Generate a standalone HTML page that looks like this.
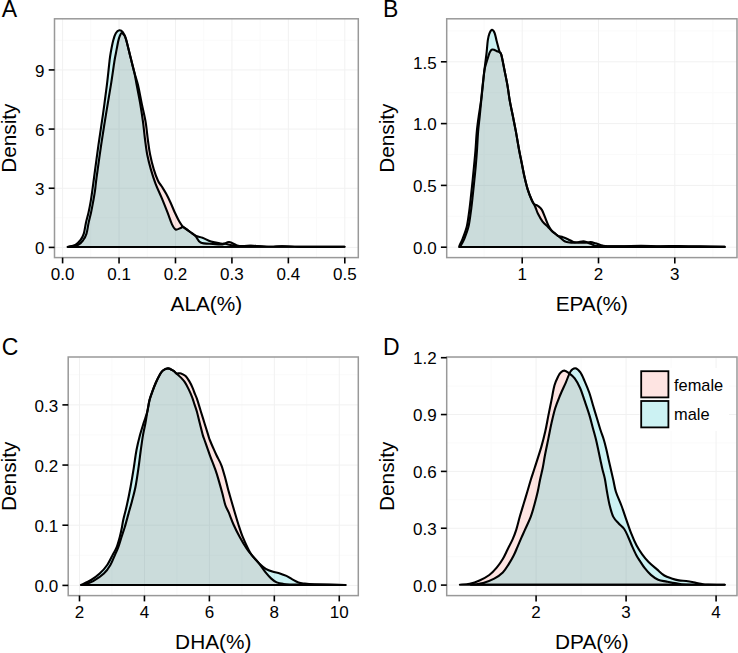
<!DOCTYPE html>
<html><head><meta charset="utf-8"><style>
html,body{margin:0;padding:0;background:#fff;width:738px;height:653px;overflow:hidden}
svg{display:block}
text{font-family:"Liberation Sans", sans-serif;fill:#000}
.tk{font-size:17px}
.lg{font-size:16.4px}
.ti{font-size:20.8px}
.lt{font-size:23px}
</style></head><body>
<svg width="738" height="653" viewBox="0 0 738 653">
<rect width="738" height="653" fill="#fff"/>
<line x1="90.82" y1="18.8" x2="90.82" y2="257.6" stroke="#FAFAFA" stroke-width="1"/>
<line x1="147.26" y1="18.8" x2="147.26" y2="257.6" stroke="#FAFAFA" stroke-width="1"/>
<line x1="203.7" y1="18.8" x2="203.7" y2="257.6" stroke="#FAFAFA" stroke-width="1"/>
<line x1="260.14" y1="18.8" x2="260.14" y2="257.6" stroke="#FAFAFA" stroke-width="1"/>
<line x1="316.58" y1="18.8" x2="316.58" y2="257.6" stroke="#FAFAFA" stroke-width="1"/>
<line x1="54.5" y1="217.82" x2="358.3" y2="217.82" stroke="#FAFAFA" stroke-width="1"/>
<line x1="54.5" y1="158.66" x2="358.3" y2="158.66" stroke="#FAFAFA" stroke-width="1"/>
<line x1="54.5" y1="99.5" x2="358.3" y2="99.5" stroke="#FAFAFA" stroke-width="1"/>
<line x1="54.5" y1="40.34" x2="358.3" y2="40.34" stroke="#FAFAFA" stroke-width="1"/>
<line x1="62.6" y1="18.8" x2="62.6" y2="257.6" stroke="#F1F1F1" stroke-width="1"/>
<line x1="119.04" y1="18.8" x2="119.04" y2="257.6" stroke="#F1F1F1" stroke-width="1"/>
<line x1="175.48" y1="18.8" x2="175.48" y2="257.6" stroke="#F1F1F1" stroke-width="1"/>
<line x1="231.92" y1="18.8" x2="231.92" y2="257.6" stroke="#F1F1F1" stroke-width="1"/>
<line x1="288.36" y1="18.8" x2="288.36" y2="257.6" stroke="#F1F1F1" stroke-width="1"/>
<line x1="344.8" y1="18.8" x2="344.8" y2="257.6" stroke="#F1F1F1" stroke-width="1"/>
<line x1="54.5" y1="247.4" x2="358.3" y2="247.4" stroke="#F1F1F1" stroke-width="1"/>
<line x1="54.5" y1="188.24" x2="358.3" y2="188.24" stroke="#F1F1F1" stroke-width="1"/>
<line x1="54.5" y1="129.08" x2="358.3" y2="129.08" stroke="#F1F1F1" stroke-width="1"/>
<line x1="54.5" y1="69.92" x2="358.3" y2="69.92" stroke="#F1F1F1" stroke-width="1"/>
<path d="M68.70,247.00 C70.30,246.63 75.87,245.97 78.30,244.80 C80.73,243.63 81.93,241.87 83.30,240.00 C84.67,238.13 85.62,236.45 86.50,233.60 C87.38,230.75 87.83,226.47 88.60,222.90 C89.37,219.33 90.33,215.78 91.10,212.20 C91.87,208.62 92.55,204.98 93.20,201.40 C93.85,197.82 94.45,194.60 95.00,190.70 C95.55,186.80 95.47,185.68 96.50,178.00 C97.53,170.32 99.63,155.13 101.20,144.60 C102.77,134.07 104.28,124.75 105.90,114.80 C107.52,104.85 109.48,93.82 110.90,84.90 C112.32,75.98 113.55,66.67 114.40,61.30 C115.25,55.93 115.33,56.18 116.00,52.70 C116.67,49.22 117.73,43.27 118.40,40.40 C119.07,37.53 119.48,36.73 120.00,35.50 C120.52,34.27 120.83,33.08 121.50,33.00 C122.17,32.92 123.25,33.97 124.00,35.00 C124.75,36.03 124.90,35.43 126.00,39.20 C127.10,42.97 129.22,52.08 130.60,57.60 C131.98,63.12 133.07,67.72 134.30,72.30 C135.53,76.88 136.77,79.90 138.00,85.10 C139.23,90.30 140.43,97.37 141.70,103.50 C142.97,109.63 144.57,115.82 145.60,121.90 C146.63,127.98 147.15,134.57 147.90,140.00 C148.65,145.43 149.13,149.65 150.10,154.50 C151.07,159.35 152.38,164.73 153.70,169.10 C155.02,173.47 156.65,177.80 158.00,180.70 C159.35,183.60 160.43,184.32 161.80,186.50 C163.17,188.68 164.75,191.13 166.20,193.80 C167.65,196.47 169.05,199.35 170.50,202.50 C171.95,205.65 173.43,209.53 174.90,212.70 C176.37,215.87 177.85,219.07 179.30,221.50 C180.75,223.93 181.00,224.98 183.60,227.30 C186.20,229.62 192.07,232.87 194.90,235.40 C197.73,237.93 197.58,241.08 200.60,242.50 C203.62,243.92 209.37,243.58 213.00,243.90 C216.63,244.22 219.72,244.72 222.40,244.40 C225.08,244.08 226.72,241.83 229.10,242.00 C231.48,242.17 234.65,244.70 236.70,245.40 C238.75,246.10 239.02,246.13 241.40,246.20 C243.78,246.27 246.23,245.70 251.00,245.80 C255.77,245.90 264.83,246.72 270.00,246.80 C275.17,246.88 277.00,246.28 282.00,246.30 C287.00,246.32 291.17,246.80 300.00,246.90 C308.83,247.00 327.58,246.93 335.00,246.90 C342.42,246.87 342.92,246.73 344.50,246.70 Z" fill="rgba(248,118,109,0.2)"/>
<path d="M67.60,247.00 C68.90,246.63 73.23,245.97 75.40,244.80 C77.57,243.63 79.20,241.87 80.60,240.00 C82.00,238.13 82.92,236.45 83.80,233.60 C84.68,230.75 85.10,226.47 85.90,222.90 C86.70,219.33 87.80,215.78 88.60,212.20 C89.40,208.62 90.08,204.98 90.70,201.40 C91.32,197.82 91.75,194.60 92.30,190.70 C92.85,186.80 92.97,185.68 94.00,178.00 C95.03,170.32 97.02,155.13 98.50,144.60 C99.98,134.07 101.50,124.75 102.90,114.80 C104.30,104.85 105.80,93.82 106.90,84.90 C108.00,75.98 108.87,66.67 109.50,61.30 C110.13,55.93 110.08,56.18 110.70,52.70 C111.32,49.22 112.35,43.65 113.20,40.40 C114.05,37.15 114.78,34.88 115.80,33.20 C116.82,31.52 118.13,30.47 119.30,30.30 C120.47,30.13 121.68,30.72 122.80,32.20 C123.92,33.68 124.70,34.97 126.00,39.20 C127.30,43.43 129.22,52.08 130.60,57.60 C131.98,63.12 133.28,67.72 134.30,72.30 C135.32,76.88 135.72,79.90 136.70,85.10 C137.68,90.30 139.15,97.37 140.20,103.50 C141.25,109.63 142.18,115.82 143.00,121.90 C143.82,127.98 144.40,134.57 145.10,140.00 C145.80,145.43 146.25,149.65 147.20,154.50 C148.15,159.35 149.42,164.25 150.80,169.10 C152.18,173.95 153.67,178.75 155.50,183.60 C157.33,188.45 159.78,193.35 161.80,198.20 C163.82,203.05 165.90,208.33 167.60,212.70 C169.30,217.07 170.67,221.60 172.00,224.40 C173.33,227.20 174.15,228.90 175.60,229.50 C177.05,230.10 179.37,228.37 180.70,228.00 C182.03,227.63 181.23,226.07 183.60,227.30 C185.97,228.53 191.75,233.65 194.90,235.40 C198.05,237.15 199.82,236.77 202.50,237.80 C205.18,238.83 208.00,240.65 211.00,241.60 C214.00,242.55 218.12,243.13 220.50,243.50 C222.88,243.87 223.38,243.50 225.30,243.80 C227.22,244.10 229.55,244.92 232.00,245.30 C234.45,245.68 236.83,246.03 240.00,246.10 C243.17,246.17 246.00,245.58 251.00,245.70 C256.00,245.82 264.83,246.70 270.00,246.80 C275.17,246.90 277.00,246.28 282.00,246.30 C287.00,246.32 291.17,246.80 300.00,246.90 C308.83,247.00 327.58,246.93 335.00,246.90 C342.42,246.87 342.92,246.73 344.50,246.70 Z" fill="rgba(0,191,196,0.2)"/>
<path d="M68.70,247.00 C70.30,246.63 75.87,245.97 78.30,244.80 C80.73,243.63 81.93,241.87 83.30,240.00 C84.67,238.13 85.62,236.45 86.50,233.60 C87.38,230.75 87.83,226.47 88.60,222.90 C89.37,219.33 90.33,215.78 91.10,212.20 C91.87,208.62 92.55,204.98 93.20,201.40 C93.85,197.82 94.45,194.60 95.00,190.70 C95.55,186.80 95.47,185.68 96.50,178.00 C97.53,170.32 99.63,155.13 101.20,144.60 C102.77,134.07 104.28,124.75 105.90,114.80 C107.52,104.85 109.48,93.82 110.90,84.90 C112.32,75.98 113.55,66.67 114.40,61.30 C115.25,55.93 115.33,56.18 116.00,52.70 C116.67,49.22 117.73,43.27 118.40,40.40 C119.07,37.53 119.48,36.73 120.00,35.50 C120.52,34.27 120.83,33.08 121.50,33.00 C122.17,32.92 123.25,33.97 124.00,35.00 C124.75,36.03 124.90,35.43 126.00,39.20 C127.10,42.97 129.22,52.08 130.60,57.60 C131.98,63.12 133.07,67.72 134.30,72.30 C135.53,76.88 136.77,79.90 138.00,85.10 C139.23,90.30 140.43,97.37 141.70,103.50 C142.97,109.63 144.57,115.82 145.60,121.90 C146.63,127.98 147.15,134.57 147.90,140.00 C148.65,145.43 149.13,149.65 150.10,154.50 C151.07,159.35 152.38,164.73 153.70,169.10 C155.02,173.47 156.65,177.80 158.00,180.70 C159.35,183.60 160.43,184.32 161.80,186.50 C163.17,188.68 164.75,191.13 166.20,193.80 C167.65,196.47 169.05,199.35 170.50,202.50 C171.95,205.65 173.43,209.53 174.90,212.70 C176.37,215.87 177.85,219.07 179.30,221.50 C180.75,223.93 181.00,224.98 183.60,227.30 C186.20,229.62 192.07,232.87 194.90,235.40 C197.73,237.93 197.58,241.08 200.60,242.50 C203.62,243.92 209.37,243.58 213.00,243.90 C216.63,244.22 219.72,244.72 222.40,244.40 C225.08,244.08 226.72,241.83 229.10,242.00 C231.48,242.17 234.65,244.70 236.70,245.40 C238.75,246.10 239.02,246.13 241.40,246.20 C243.78,246.27 246.23,245.70 251.00,245.80 C255.77,245.90 264.83,246.72 270.00,246.80 C275.17,246.88 277.00,246.28 282.00,246.30 C287.00,246.32 291.17,246.80 300.00,246.90 C308.83,247.00 327.58,246.93 335.00,246.90 C342.42,246.87 342.92,246.73 344.50,246.70 Z" fill="none" stroke="#000" stroke-width="2.1" stroke-linejoin="round"/>
<path d="M67.60,247.00 C68.90,246.63 73.23,245.97 75.40,244.80 C77.57,243.63 79.20,241.87 80.60,240.00 C82.00,238.13 82.92,236.45 83.80,233.60 C84.68,230.75 85.10,226.47 85.90,222.90 C86.70,219.33 87.80,215.78 88.60,212.20 C89.40,208.62 90.08,204.98 90.70,201.40 C91.32,197.82 91.75,194.60 92.30,190.70 C92.85,186.80 92.97,185.68 94.00,178.00 C95.03,170.32 97.02,155.13 98.50,144.60 C99.98,134.07 101.50,124.75 102.90,114.80 C104.30,104.85 105.80,93.82 106.90,84.90 C108.00,75.98 108.87,66.67 109.50,61.30 C110.13,55.93 110.08,56.18 110.70,52.70 C111.32,49.22 112.35,43.65 113.20,40.40 C114.05,37.15 114.78,34.88 115.80,33.20 C116.82,31.52 118.13,30.47 119.30,30.30 C120.47,30.13 121.68,30.72 122.80,32.20 C123.92,33.68 124.70,34.97 126.00,39.20 C127.30,43.43 129.22,52.08 130.60,57.60 C131.98,63.12 133.28,67.72 134.30,72.30 C135.32,76.88 135.72,79.90 136.70,85.10 C137.68,90.30 139.15,97.37 140.20,103.50 C141.25,109.63 142.18,115.82 143.00,121.90 C143.82,127.98 144.40,134.57 145.10,140.00 C145.80,145.43 146.25,149.65 147.20,154.50 C148.15,159.35 149.42,164.25 150.80,169.10 C152.18,173.95 153.67,178.75 155.50,183.60 C157.33,188.45 159.78,193.35 161.80,198.20 C163.82,203.05 165.90,208.33 167.60,212.70 C169.30,217.07 170.67,221.60 172.00,224.40 C173.33,227.20 174.15,228.90 175.60,229.50 C177.05,230.10 179.37,228.37 180.70,228.00 C182.03,227.63 181.23,226.07 183.60,227.30 C185.97,228.53 191.75,233.65 194.90,235.40 C198.05,237.15 199.82,236.77 202.50,237.80 C205.18,238.83 208.00,240.65 211.00,241.60 C214.00,242.55 218.12,243.13 220.50,243.50 C222.88,243.87 223.38,243.50 225.30,243.80 C227.22,244.10 229.55,244.92 232.00,245.30 C234.45,245.68 236.83,246.03 240.00,246.10 C243.17,246.17 246.00,245.58 251.00,245.70 C256.00,245.82 264.83,246.70 270.00,246.80 C275.17,246.90 277.00,246.28 282.00,246.30 C287.00,246.32 291.17,246.80 300.00,246.90 C308.83,247.00 327.58,246.93 335.00,246.90 C342.42,246.87 342.92,246.73 344.50,246.70 Z" fill="none" stroke="#000" stroke-width="2.1" stroke-linejoin="round"/>
<rect x="54.5" y="18.8" width="303.8" height="238.8" fill="none" stroke="#999" stroke-width="1.5"/>
<line x1="62.6" y1="257.6" x2="62.6" y2="263.4" stroke="#000" stroke-width="1.6"/>
<text x="62.6" y="280.1" text-anchor="middle" class="tk">0.0</text>
<line x1="119.04" y1="257.6" x2="119.04" y2="263.4" stroke="#000" stroke-width="1.6"/>
<text x="119.04" y="280.1" text-anchor="middle" class="tk">0.1</text>
<line x1="175.48" y1="257.6" x2="175.48" y2="263.4" stroke="#000" stroke-width="1.6"/>
<text x="175.48" y="280.1" text-anchor="middle" class="tk">0.2</text>
<line x1="231.92" y1="257.6" x2="231.92" y2="263.4" stroke="#000" stroke-width="1.6"/>
<text x="231.92" y="280.1" text-anchor="middle" class="tk">0.3</text>
<line x1="288.36" y1="257.6" x2="288.36" y2="263.4" stroke="#000" stroke-width="1.6"/>
<text x="288.36" y="280.1" text-anchor="middle" class="tk">0.4</text>
<line x1="344.8" y1="257.6" x2="344.8" y2="263.4" stroke="#000" stroke-width="1.6"/>
<text x="344.8" y="280.1" text-anchor="middle" class="tk">0.5</text>
<line x1="48.7" y1="247.4" x2="54.5" y2="247.4" stroke="#000" stroke-width="1.6"/>
<text x="44.5" y="254.1" text-anchor="end" class="tk">0</text>
<line x1="48.7" y1="188.24" x2="54.5" y2="188.24" stroke="#000" stroke-width="1.6"/>
<text x="44.5" y="194.94" text-anchor="end" class="tk">3</text>
<line x1="48.7" y1="129.08" x2="54.5" y2="129.08" stroke="#000" stroke-width="1.6"/>
<text x="44.5" y="135.78" text-anchor="end" class="tk">6</text>
<line x1="48.7" y1="69.92" x2="54.5" y2="69.92" stroke="#000" stroke-width="1.6"/>
<text x="44.5" y="76.62" text-anchor="end" class="tk">9</text>
<text x="206.4" y="310.8" text-anchor="middle" class="ti">ALA(%)</text>
<text transform="translate(15.8,138.2) rotate(-90)" text-anchor="middle" class="ti">Density</text>
<text x="1.8" y="16.9" class="lt">A</text>
<line x1="484.05" y1="18.8" x2="484.05" y2="257.6" stroke="#FAFAFA" stroke-width="1"/>
<line x1="560.35" y1="18.8" x2="560.35" y2="257.6" stroke="#FAFAFA" stroke-width="1"/>
<line x1="636.65" y1="18.8" x2="636.65" y2="257.6" stroke="#FAFAFA" stroke-width="1"/>
<line x1="712.95" y1="18.8" x2="712.95" y2="257.6" stroke="#FAFAFA" stroke-width="1"/>
<line x1="446.7" y1="216.3" x2="737" y2="216.3" stroke="#FAFAFA" stroke-width="1"/>
<line x1="446.7" y1="154.5" x2="737" y2="154.5" stroke="#FAFAFA" stroke-width="1"/>
<line x1="446.7" y1="92.7" x2="737" y2="92.7" stroke="#FAFAFA" stroke-width="1"/>
<line x1="446.7" y1="30.9" x2="737" y2="30.9" stroke="#FAFAFA" stroke-width="1"/>
<line x1="522.2" y1="18.8" x2="522.2" y2="257.6" stroke="#F1F1F1" stroke-width="1"/>
<line x1="598.5" y1="18.8" x2="598.5" y2="257.6" stroke="#F1F1F1" stroke-width="1"/>
<line x1="674.8" y1="18.8" x2="674.8" y2="257.6" stroke="#F1F1F1" stroke-width="1"/>
<line x1="446.7" y1="247.2" x2="737" y2="247.2" stroke="#F1F1F1" stroke-width="1"/>
<line x1="446.7" y1="185.4" x2="737" y2="185.4" stroke="#F1F1F1" stroke-width="1"/>
<line x1="446.7" y1="123.6" x2="737" y2="123.6" stroke="#F1F1F1" stroke-width="1"/>
<line x1="446.7" y1="61.8" x2="737" y2="61.8" stroke="#F1F1F1" stroke-width="1"/>
<path d="M460.00,247.00 C460.18,246.65 460.38,246.27 461.10,244.90 C461.82,243.53 463.07,241.85 464.30,238.80 C465.53,235.75 467.40,231.18 468.50,226.60 C469.60,222.02 470.20,216.42 470.90,211.30 C471.60,206.18 472.13,201.02 472.70,195.90 C473.27,190.78 473.78,185.70 474.30,180.60 C474.82,175.50 475.35,170.40 475.80,165.30 C476.25,160.20 476.62,155.62 477.00,150.00 C477.38,144.38 477.65,137.22 478.10,131.60 C478.55,125.98 479.18,121.42 479.70,116.30 C480.22,111.18 480.68,106.02 481.20,100.90 C481.72,95.78 482.27,90.70 482.80,85.60 C483.33,80.50 483.82,74.07 484.40,70.30 C484.98,66.53 485.62,65.42 486.30,63.00 C486.98,60.58 487.85,57.72 488.50,55.80 C489.15,53.88 489.58,52.55 490.20,51.50 C490.82,50.45 491.48,49.75 492.20,49.50 C492.92,49.25 493.70,49.70 494.50,50.00 C495.30,50.30 496.17,50.93 497.00,51.30 C497.83,51.67 498.77,51.58 499.50,52.20 C500.23,52.82 500.57,51.98 501.40,55.00 C502.23,58.02 503.48,65.20 504.50,70.30 C505.52,75.40 506.62,80.50 507.50,85.60 C508.38,90.70 508.90,95.78 509.80,100.90 C510.70,106.02 511.88,111.18 512.90,116.30 C513.92,121.42 514.87,125.98 515.90,131.60 C516.93,137.22 518.13,144.77 519.10,150.00 C520.07,155.23 520.83,158.67 521.70,163.00 C522.57,167.33 523.32,171.65 524.30,176.00 C525.28,180.35 526.40,185.18 527.60,189.10 C528.80,193.02 530.42,197.02 531.50,199.50 C532.58,201.98 533.02,202.92 534.10,204.00 C535.18,205.08 536.70,205.02 538.00,206.00 C539.30,206.98 540.70,207.95 541.90,209.90 C543.10,211.85 544.12,215.10 545.20,217.70 C546.28,220.30 547.32,223.33 548.40,225.50 C549.48,227.67 550.50,229.28 551.70,230.70 C552.90,232.12 554.53,233.12 555.60,234.00 C556.67,234.88 557.27,235.33 558.10,236.00 C558.93,236.67 559.52,237.12 560.60,238.00 C561.68,238.88 563.12,240.55 564.60,241.30 C566.08,242.05 567.47,242.30 569.50,242.50 C571.53,242.70 574.50,242.70 576.80,242.50 C579.10,242.30 581.53,241.30 583.30,241.30 C585.07,241.30 585.90,241.97 587.40,242.50 C588.90,243.03 590.67,243.90 592.30,244.50 C593.93,245.10 592.58,245.80 597.20,246.10 C601.82,246.40 612.70,246.33 620.00,246.30 C627.30,246.27 634.33,245.90 641.00,245.90 C647.67,245.90 653.67,246.28 660.00,246.30 C666.33,246.32 672.33,245.98 679.00,246.00 C685.67,246.02 692.38,246.25 700.00,246.40 C707.62,246.55 720.58,246.82 724.70,246.90 Z" fill="rgba(248,118,109,0.2)"/>
<path d="M459.10,247.00 C459.22,246.65 459.22,246.27 459.80,244.90 C460.38,243.53 461.43,241.85 462.60,238.80 C463.77,235.75 465.70,231.18 466.80,226.60 C467.90,222.02 468.50,216.42 469.20,211.30 C469.90,206.18 470.43,201.02 471.00,195.90 C471.57,190.78 472.08,185.70 472.60,180.60 C473.12,175.50 473.62,170.40 474.10,165.30 C474.58,160.20 475.05,155.62 475.50,150.00 C475.95,144.38 476.27,137.22 476.80,131.60 C477.33,125.98 478.00,121.42 478.70,116.30 C479.40,111.18 480.35,106.02 481.00,100.90 C481.65,95.78 482.03,90.70 482.60,85.60 C483.17,80.50 483.92,74.35 484.40,70.30 C484.88,66.25 485.13,64.23 485.50,61.30 C485.87,58.37 486.22,56.18 486.60,52.70 C486.98,49.22 487.35,43.55 487.80,40.40 C488.25,37.25 488.62,35.55 489.30,33.80 C489.98,32.05 491.02,30.03 491.90,29.90 C492.78,29.77 493.83,31.25 494.60,33.00 C495.37,34.75 495.68,37.33 496.50,40.40 C497.32,43.47 498.68,48.97 499.50,51.40 C500.32,53.83 500.57,51.85 501.40,55.00 C502.23,58.15 503.48,65.20 504.50,70.30 C505.52,75.40 506.62,80.50 507.50,85.60 C508.38,90.70 508.90,95.78 509.80,100.90 C510.70,106.02 511.88,111.18 512.90,116.30 C513.92,121.42 514.87,125.98 515.90,131.60 C516.93,137.22 518.13,144.77 519.10,150.00 C520.07,155.23 520.83,158.67 521.70,163.00 C522.57,167.33 523.32,171.65 524.30,176.00 C525.28,180.35 526.40,185.18 527.60,189.10 C528.80,193.02 530.20,196.47 531.50,199.50 C532.80,202.53 534.32,204.92 535.40,207.30 C536.48,209.68 536.80,211.42 538.00,213.80 C539.20,216.18 540.97,219.43 542.60,221.60 C544.23,223.77 546.28,225.28 547.80,226.80 C549.32,228.32 550.40,229.50 551.70,230.70 C553.00,231.90 554.53,233.12 555.60,234.00 C556.67,234.88 556.87,235.47 558.10,236.00 C559.33,236.53 561.37,236.67 563.00,237.20 C564.63,237.73 566.27,238.45 567.90,239.20 C569.53,239.95 571.18,241.15 572.80,241.70 C574.42,242.25 575.72,242.32 577.60,242.50 C579.48,242.68 581.92,242.87 584.10,242.80 C586.28,242.73 588.80,242.02 590.70,242.10 C592.60,242.18 593.88,242.83 595.50,243.30 C597.12,243.77 598.77,244.45 600.40,244.90 C602.03,245.35 602.03,245.75 605.30,246.00 C608.57,246.25 600.10,246.25 620.00,246.40 C639.90,246.55 707.25,246.82 724.70,246.90 Z" fill="rgba(0,191,196,0.2)"/>
<path d="M460.00,247.00 C460.18,246.65 460.38,246.27 461.10,244.90 C461.82,243.53 463.07,241.85 464.30,238.80 C465.53,235.75 467.40,231.18 468.50,226.60 C469.60,222.02 470.20,216.42 470.90,211.30 C471.60,206.18 472.13,201.02 472.70,195.90 C473.27,190.78 473.78,185.70 474.30,180.60 C474.82,175.50 475.35,170.40 475.80,165.30 C476.25,160.20 476.62,155.62 477.00,150.00 C477.38,144.38 477.65,137.22 478.10,131.60 C478.55,125.98 479.18,121.42 479.70,116.30 C480.22,111.18 480.68,106.02 481.20,100.90 C481.72,95.78 482.27,90.70 482.80,85.60 C483.33,80.50 483.82,74.07 484.40,70.30 C484.98,66.53 485.62,65.42 486.30,63.00 C486.98,60.58 487.85,57.72 488.50,55.80 C489.15,53.88 489.58,52.55 490.20,51.50 C490.82,50.45 491.48,49.75 492.20,49.50 C492.92,49.25 493.70,49.70 494.50,50.00 C495.30,50.30 496.17,50.93 497.00,51.30 C497.83,51.67 498.77,51.58 499.50,52.20 C500.23,52.82 500.57,51.98 501.40,55.00 C502.23,58.02 503.48,65.20 504.50,70.30 C505.52,75.40 506.62,80.50 507.50,85.60 C508.38,90.70 508.90,95.78 509.80,100.90 C510.70,106.02 511.88,111.18 512.90,116.30 C513.92,121.42 514.87,125.98 515.90,131.60 C516.93,137.22 518.13,144.77 519.10,150.00 C520.07,155.23 520.83,158.67 521.70,163.00 C522.57,167.33 523.32,171.65 524.30,176.00 C525.28,180.35 526.40,185.18 527.60,189.10 C528.80,193.02 530.42,197.02 531.50,199.50 C532.58,201.98 533.02,202.92 534.10,204.00 C535.18,205.08 536.70,205.02 538.00,206.00 C539.30,206.98 540.70,207.95 541.90,209.90 C543.10,211.85 544.12,215.10 545.20,217.70 C546.28,220.30 547.32,223.33 548.40,225.50 C549.48,227.67 550.50,229.28 551.70,230.70 C552.90,232.12 554.53,233.12 555.60,234.00 C556.67,234.88 557.27,235.33 558.10,236.00 C558.93,236.67 559.52,237.12 560.60,238.00 C561.68,238.88 563.12,240.55 564.60,241.30 C566.08,242.05 567.47,242.30 569.50,242.50 C571.53,242.70 574.50,242.70 576.80,242.50 C579.10,242.30 581.53,241.30 583.30,241.30 C585.07,241.30 585.90,241.97 587.40,242.50 C588.90,243.03 590.67,243.90 592.30,244.50 C593.93,245.10 592.58,245.80 597.20,246.10 C601.82,246.40 612.70,246.33 620.00,246.30 C627.30,246.27 634.33,245.90 641.00,245.90 C647.67,245.90 653.67,246.28 660.00,246.30 C666.33,246.32 672.33,245.98 679.00,246.00 C685.67,246.02 692.38,246.25 700.00,246.40 C707.62,246.55 720.58,246.82 724.70,246.90 Z" fill="none" stroke="#000" stroke-width="2.1" stroke-linejoin="round"/>
<path d="M459.10,247.00 C459.22,246.65 459.22,246.27 459.80,244.90 C460.38,243.53 461.43,241.85 462.60,238.80 C463.77,235.75 465.70,231.18 466.80,226.60 C467.90,222.02 468.50,216.42 469.20,211.30 C469.90,206.18 470.43,201.02 471.00,195.90 C471.57,190.78 472.08,185.70 472.60,180.60 C473.12,175.50 473.62,170.40 474.10,165.30 C474.58,160.20 475.05,155.62 475.50,150.00 C475.95,144.38 476.27,137.22 476.80,131.60 C477.33,125.98 478.00,121.42 478.70,116.30 C479.40,111.18 480.35,106.02 481.00,100.90 C481.65,95.78 482.03,90.70 482.60,85.60 C483.17,80.50 483.92,74.35 484.40,70.30 C484.88,66.25 485.13,64.23 485.50,61.30 C485.87,58.37 486.22,56.18 486.60,52.70 C486.98,49.22 487.35,43.55 487.80,40.40 C488.25,37.25 488.62,35.55 489.30,33.80 C489.98,32.05 491.02,30.03 491.90,29.90 C492.78,29.77 493.83,31.25 494.60,33.00 C495.37,34.75 495.68,37.33 496.50,40.40 C497.32,43.47 498.68,48.97 499.50,51.40 C500.32,53.83 500.57,51.85 501.40,55.00 C502.23,58.15 503.48,65.20 504.50,70.30 C505.52,75.40 506.62,80.50 507.50,85.60 C508.38,90.70 508.90,95.78 509.80,100.90 C510.70,106.02 511.88,111.18 512.90,116.30 C513.92,121.42 514.87,125.98 515.90,131.60 C516.93,137.22 518.13,144.77 519.10,150.00 C520.07,155.23 520.83,158.67 521.70,163.00 C522.57,167.33 523.32,171.65 524.30,176.00 C525.28,180.35 526.40,185.18 527.60,189.10 C528.80,193.02 530.20,196.47 531.50,199.50 C532.80,202.53 534.32,204.92 535.40,207.30 C536.48,209.68 536.80,211.42 538.00,213.80 C539.20,216.18 540.97,219.43 542.60,221.60 C544.23,223.77 546.28,225.28 547.80,226.80 C549.32,228.32 550.40,229.50 551.70,230.70 C553.00,231.90 554.53,233.12 555.60,234.00 C556.67,234.88 556.87,235.47 558.10,236.00 C559.33,236.53 561.37,236.67 563.00,237.20 C564.63,237.73 566.27,238.45 567.90,239.20 C569.53,239.95 571.18,241.15 572.80,241.70 C574.42,242.25 575.72,242.32 577.60,242.50 C579.48,242.68 581.92,242.87 584.10,242.80 C586.28,242.73 588.80,242.02 590.70,242.10 C592.60,242.18 593.88,242.83 595.50,243.30 C597.12,243.77 598.77,244.45 600.40,244.90 C602.03,245.35 602.03,245.75 605.30,246.00 C608.57,246.25 600.10,246.25 620.00,246.40 C639.90,246.55 707.25,246.82 724.70,246.90 Z" fill="none" stroke="#000" stroke-width="2.1" stroke-linejoin="round"/>
<rect x="446.7" y="18.8" width="290.3" height="238.8" fill="none" stroke="#999" stroke-width="1.5"/>
<line x1="522.2" y1="257.6" x2="522.2" y2="263.4" stroke="#000" stroke-width="1.6"/>
<text x="522.2" y="280.1" text-anchor="middle" class="tk">1</text>
<line x1="598.5" y1="257.6" x2="598.5" y2="263.4" stroke="#000" stroke-width="1.6"/>
<text x="598.5" y="280.1" text-anchor="middle" class="tk">2</text>
<line x1="674.8" y1="257.6" x2="674.8" y2="263.4" stroke="#000" stroke-width="1.6"/>
<text x="674.8" y="280.1" text-anchor="middle" class="tk">3</text>
<line x1="440.9" y1="247.2" x2="446.7" y2="247.2" stroke="#000" stroke-width="1.6"/>
<text x="436.7" y="253.9" text-anchor="end" class="tk">0.0</text>
<line x1="440.9" y1="185.4" x2="446.7" y2="185.4" stroke="#000" stroke-width="1.6"/>
<text x="436.7" y="192.1" text-anchor="end" class="tk">0.5</text>
<line x1="440.9" y1="123.6" x2="446.7" y2="123.6" stroke="#000" stroke-width="1.6"/>
<text x="436.7" y="130.3" text-anchor="end" class="tk">1.0</text>
<line x1="440.9" y1="61.8" x2="446.7" y2="61.8" stroke="#000" stroke-width="1.6"/>
<text x="436.7" y="68.5" text-anchor="end" class="tk">1.5</text>
<text x="591.85" y="310.8" text-anchor="middle" class="ti">EPA(%)</text>
<text transform="translate(394.4,138.2) rotate(-90)" text-anchor="middle" class="ti">Density</text>
<text x="382.9" y="16.9" class="lt">B</text>
<line x1="111.97" y1="357" x2="111.97" y2="595.6" stroke="#FAFAFA" stroke-width="1"/>
<line x1="176.91" y1="357" x2="176.91" y2="595.6" stroke="#FAFAFA" stroke-width="1"/>
<line x1="241.85" y1="357" x2="241.85" y2="595.6" stroke="#FAFAFA" stroke-width="1"/>
<line x1="306.79" y1="357" x2="306.79" y2="595.6" stroke="#FAFAFA" stroke-width="1"/>
<line x1="68.2" y1="555.31" x2="358.3" y2="555.31" stroke="#FAFAFA" stroke-width="1"/>
<line x1="68.2" y1="495.14" x2="358.3" y2="495.14" stroke="#FAFAFA" stroke-width="1"/>
<line x1="68.2" y1="434.97" x2="358.3" y2="434.97" stroke="#FAFAFA" stroke-width="1"/>
<line x1="68.2" y1="374.8" x2="358.3" y2="374.8" stroke="#FAFAFA" stroke-width="1"/>
<line x1="79.5" y1="357" x2="79.5" y2="595.6" stroke="#F1F1F1" stroke-width="1"/>
<line x1="144.44" y1="357" x2="144.44" y2="595.6" stroke="#F1F1F1" stroke-width="1"/>
<line x1="209.38" y1="357" x2="209.38" y2="595.6" stroke="#F1F1F1" stroke-width="1"/>
<line x1="274.32" y1="357" x2="274.32" y2="595.6" stroke="#F1F1F1" stroke-width="1"/>
<line x1="339.26" y1="357" x2="339.26" y2="595.6" stroke="#F1F1F1" stroke-width="1"/>
<line x1="68.2" y1="585.4" x2="358.3" y2="585.4" stroke="#F1F1F1" stroke-width="1"/>
<line x1="68.2" y1="525.23" x2="358.3" y2="525.23" stroke="#F1F1F1" stroke-width="1"/>
<line x1="68.2" y1="465.06" x2="358.3" y2="465.06" stroke="#F1F1F1" stroke-width="1"/>
<line x1="68.2" y1="404.89" x2="358.3" y2="404.89" stroke="#F1F1F1" stroke-width="1"/>
<path d="M83.60,585.00 C85.20,584.35 89.82,583.00 93.20,581.10 C96.58,579.20 101.03,576.28 103.90,573.60 C106.77,570.92 108.52,568.22 110.40,565.00 C112.28,561.78 113.87,557.33 115.20,554.30 C116.53,551.27 117.30,549.83 118.40,546.80 C119.50,543.77 120.73,539.40 121.80,536.10 C122.87,532.80 123.68,530.75 124.80,527.00 C125.92,523.25 127.32,517.87 128.50,513.60 C129.68,509.33 130.73,505.88 131.90,501.40 C133.07,496.92 134.42,492.20 135.50,486.70 C136.58,481.20 137.52,474.52 138.40,468.40 C139.28,462.28 140.03,455.55 140.80,450.00 C141.57,444.45 142.22,439.63 143.00,435.10 C143.78,430.57 144.75,426.90 145.50,422.80 C146.25,418.70 146.82,414.33 147.50,410.50 C148.18,406.67 148.73,403.12 149.60,399.80 C150.47,396.48 151.68,393.40 152.70,390.60 C153.72,387.80 154.57,385.55 155.70,383.00 C156.83,380.45 158.35,377.35 159.50,375.30 C160.65,373.25 161.18,371.85 162.60,370.70 C164.02,369.55 166.22,368.40 168.00,368.40 C169.78,368.40 171.90,369.87 173.30,370.70 C174.70,371.53 175.12,372.95 176.40,373.40 C177.68,373.85 179.47,372.95 181.00,373.40 C182.53,373.85 184.20,374.77 185.60,376.10 C187.00,377.43 188.25,379.48 189.40,381.40 C190.55,383.32 191.60,385.55 192.50,387.60 C193.40,389.65 194.07,391.85 194.80,393.70 C195.53,395.55 195.92,395.82 196.90,398.70 C197.88,401.58 199.43,406.92 200.70,411.00 C201.97,415.08 203.23,419.13 204.50,423.20 C205.77,427.27 207.42,432.60 208.30,435.40 C209.18,438.20 209.02,437.98 209.80,440.00 C210.58,442.02 211.88,444.95 213.00,447.50 C214.12,450.05 215.10,452.33 216.50,455.30 C217.90,458.27 219.93,461.47 221.40,465.30 C222.87,469.13 224.20,474.35 225.30,478.30 C226.40,482.25 227.27,486.22 228.00,489.00 C228.73,491.78 228.58,491.13 229.70,495.00 C230.82,498.87 233.25,507.28 234.70,512.20 C236.15,517.12 237.08,520.42 238.40,524.50 C239.72,528.58 240.97,532.62 242.60,536.70 C244.23,540.78 246.67,545.93 248.20,549.00 C249.73,552.07 249.97,552.67 251.80,555.10 C253.63,557.53 256.87,560.68 259.20,563.60 C261.53,566.52 263.78,570.10 265.80,572.60 C267.82,575.10 269.48,576.97 271.30,578.60 C273.12,580.23 274.72,581.52 276.70,582.40 C278.68,583.28 279.58,583.53 283.20,583.90 C286.82,584.27 288.02,584.42 298.40,584.60 C308.78,584.78 337.65,584.93 345.50,585.00 Z" fill="rgba(248,118,109,0.2)"/>
<path d="M80.90,585.00 C82.60,584.17 87.97,581.90 91.10,580.00 C94.23,578.10 97.02,576.10 99.70,573.60 C102.38,571.10 104.98,568.22 107.20,565.00 C109.42,561.78 111.40,557.33 113.00,554.30 C114.60,551.27 115.63,549.83 116.80,546.80 C117.97,543.77 119.17,539.23 120.00,536.10 C120.83,532.97 121.25,530.72 121.80,528.00 C122.35,525.28 122.45,523.62 123.30,519.80 C124.15,515.98 125.68,510.62 126.90,505.10 C128.12,499.58 129.47,492.82 130.60,486.70 C131.73,480.58 132.72,474.52 133.70,468.40 C134.68,462.28 135.45,455.55 136.50,450.00 C137.55,444.45 138.80,439.63 140.00,435.10 C141.20,430.57 142.48,426.68 143.70,422.80 C144.92,418.92 146.32,415.63 147.30,411.80 C148.28,407.97 148.70,403.33 149.60,399.80 C150.50,396.27 151.68,393.40 152.70,390.60 C153.72,387.80 154.57,385.55 155.70,383.00 C156.83,380.45 158.35,377.35 159.50,375.30 C160.65,373.25 161.18,371.85 162.60,370.70 C164.02,369.55 166.22,368.40 168.00,368.40 C169.78,368.40 171.90,369.87 173.30,370.70 C174.70,371.53 175.12,372.25 176.40,373.40 C177.68,374.55 179.60,376.13 181.00,377.60 C182.40,379.07 183.53,380.28 184.80,382.20 C186.07,384.12 187.40,386.67 188.60,389.10 C189.80,391.53 191.02,394.25 192.00,396.80 C192.98,399.35 193.72,402.03 194.50,404.40 C195.28,406.77 195.82,407.87 196.70,411.00 C197.58,414.13 198.77,419.13 199.80,423.20 C200.83,427.27 202.12,432.60 202.90,435.40 C203.68,438.20 203.33,436.68 204.50,440.00 C205.67,443.32 208.03,450.18 209.90,455.30 C211.77,460.42 214.18,466.35 215.70,470.70 C217.22,475.05 217.88,477.58 219.00,481.40 C220.12,485.22 221.35,489.67 222.40,493.60 C223.45,497.53 224.27,501.90 225.30,505.00 C226.33,508.10 227.23,508.95 228.60,512.20 C229.97,515.45 231.67,520.42 233.50,524.50 C235.33,528.58 237.37,532.62 239.60,536.70 C241.83,540.78 244.87,545.93 246.90,549.00 C248.93,552.07 249.75,552.67 251.80,555.10 C253.85,557.53 256.87,561.32 259.20,563.60 C261.53,565.88 263.62,567.47 265.80,568.80 C267.98,570.13 269.95,570.83 272.30,571.60 C274.65,572.37 277.55,572.68 279.90,573.40 C282.25,574.12 284.40,574.95 286.40,575.90 C288.40,576.85 289.90,578.02 291.90,579.10 C293.90,580.18 296.42,581.67 298.40,582.40 C300.38,583.13 301.10,583.18 303.80,583.50 C306.50,583.82 307.65,584.05 314.60,584.30 C321.55,584.55 340.35,584.88 345.50,585.00 Z" fill="rgba(0,191,196,0.2)"/>
<path d="M83.60,585.00 C85.20,584.35 89.82,583.00 93.20,581.10 C96.58,579.20 101.03,576.28 103.90,573.60 C106.77,570.92 108.52,568.22 110.40,565.00 C112.28,561.78 113.87,557.33 115.20,554.30 C116.53,551.27 117.30,549.83 118.40,546.80 C119.50,543.77 120.73,539.40 121.80,536.10 C122.87,532.80 123.68,530.75 124.80,527.00 C125.92,523.25 127.32,517.87 128.50,513.60 C129.68,509.33 130.73,505.88 131.90,501.40 C133.07,496.92 134.42,492.20 135.50,486.70 C136.58,481.20 137.52,474.52 138.40,468.40 C139.28,462.28 140.03,455.55 140.80,450.00 C141.57,444.45 142.22,439.63 143.00,435.10 C143.78,430.57 144.75,426.90 145.50,422.80 C146.25,418.70 146.82,414.33 147.50,410.50 C148.18,406.67 148.73,403.12 149.60,399.80 C150.47,396.48 151.68,393.40 152.70,390.60 C153.72,387.80 154.57,385.55 155.70,383.00 C156.83,380.45 158.35,377.35 159.50,375.30 C160.65,373.25 161.18,371.85 162.60,370.70 C164.02,369.55 166.22,368.40 168.00,368.40 C169.78,368.40 171.90,369.87 173.30,370.70 C174.70,371.53 175.12,372.95 176.40,373.40 C177.68,373.85 179.47,372.95 181.00,373.40 C182.53,373.85 184.20,374.77 185.60,376.10 C187.00,377.43 188.25,379.48 189.40,381.40 C190.55,383.32 191.60,385.55 192.50,387.60 C193.40,389.65 194.07,391.85 194.80,393.70 C195.53,395.55 195.92,395.82 196.90,398.70 C197.88,401.58 199.43,406.92 200.70,411.00 C201.97,415.08 203.23,419.13 204.50,423.20 C205.77,427.27 207.42,432.60 208.30,435.40 C209.18,438.20 209.02,437.98 209.80,440.00 C210.58,442.02 211.88,444.95 213.00,447.50 C214.12,450.05 215.10,452.33 216.50,455.30 C217.90,458.27 219.93,461.47 221.40,465.30 C222.87,469.13 224.20,474.35 225.30,478.30 C226.40,482.25 227.27,486.22 228.00,489.00 C228.73,491.78 228.58,491.13 229.70,495.00 C230.82,498.87 233.25,507.28 234.70,512.20 C236.15,517.12 237.08,520.42 238.40,524.50 C239.72,528.58 240.97,532.62 242.60,536.70 C244.23,540.78 246.67,545.93 248.20,549.00 C249.73,552.07 249.97,552.67 251.80,555.10 C253.63,557.53 256.87,560.68 259.20,563.60 C261.53,566.52 263.78,570.10 265.80,572.60 C267.82,575.10 269.48,576.97 271.30,578.60 C273.12,580.23 274.72,581.52 276.70,582.40 C278.68,583.28 279.58,583.53 283.20,583.90 C286.82,584.27 288.02,584.42 298.40,584.60 C308.78,584.78 337.65,584.93 345.50,585.00 Z" fill="none" stroke="#000" stroke-width="2.1" stroke-linejoin="round"/>
<path d="M80.90,585.00 C82.60,584.17 87.97,581.90 91.10,580.00 C94.23,578.10 97.02,576.10 99.70,573.60 C102.38,571.10 104.98,568.22 107.20,565.00 C109.42,561.78 111.40,557.33 113.00,554.30 C114.60,551.27 115.63,549.83 116.80,546.80 C117.97,543.77 119.17,539.23 120.00,536.10 C120.83,532.97 121.25,530.72 121.80,528.00 C122.35,525.28 122.45,523.62 123.30,519.80 C124.15,515.98 125.68,510.62 126.90,505.10 C128.12,499.58 129.47,492.82 130.60,486.70 C131.73,480.58 132.72,474.52 133.70,468.40 C134.68,462.28 135.45,455.55 136.50,450.00 C137.55,444.45 138.80,439.63 140.00,435.10 C141.20,430.57 142.48,426.68 143.70,422.80 C144.92,418.92 146.32,415.63 147.30,411.80 C148.28,407.97 148.70,403.33 149.60,399.80 C150.50,396.27 151.68,393.40 152.70,390.60 C153.72,387.80 154.57,385.55 155.70,383.00 C156.83,380.45 158.35,377.35 159.50,375.30 C160.65,373.25 161.18,371.85 162.60,370.70 C164.02,369.55 166.22,368.40 168.00,368.40 C169.78,368.40 171.90,369.87 173.30,370.70 C174.70,371.53 175.12,372.25 176.40,373.40 C177.68,374.55 179.60,376.13 181.00,377.60 C182.40,379.07 183.53,380.28 184.80,382.20 C186.07,384.12 187.40,386.67 188.60,389.10 C189.80,391.53 191.02,394.25 192.00,396.80 C192.98,399.35 193.72,402.03 194.50,404.40 C195.28,406.77 195.82,407.87 196.70,411.00 C197.58,414.13 198.77,419.13 199.80,423.20 C200.83,427.27 202.12,432.60 202.90,435.40 C203.68,438.20 203.33,436.68 204.50,440.00 C205.67,443.32 208.03,450.18 209.90,455.30 C211.77,460.42 214.18,466.35 215.70,470.70 C217.22,475.05 217.88,477.58 219.00,481.40 C220.12,485.22 221.35,489.67 222.40,493.60 C223.45,497.53 224.27,501.90 225.30,505.00 C226.33,508.10 227.23,508.95 228.60,512.20 C229.97,515.45 231.67,520.42 233.50,524.50 C235.33,528.58 237.37,532.62 239.60,536.70 C241.83,540.78 244.87,545.93 246.90,549.00 C248.93,552.07 249.75,552.67 251.80,555.10 C253.85,557.53 256.87,561.32 259.20,563.60 C261.53,565.88 263.62,567.47 265.80,568.80 C267.98,570.13 269.95,570.83 272.30,571.60 C274.65,572.37 277.55,572.68 279.90,573.40 C282.25,574.12 284.40,574.95 286.40,575.90 C288.40,576.85 289.90,578.02 291.90,579.10 C293.90,580.18 296.42,581.67 298.40,582.40 C300.38,583.13 301.10,583.18 303.80,583.50 C306.50,583.82 307.65,584.05 314.60,584.30 C321.55,584.55 340.35,584.88 345.50,585.00 Z" fill="none" stroke="#000" stroke-width="2.1" stroke-linejoin="round"/>
<rect x="68.2" y="357" width="290.1" height="238.6" fill="none" stroke="#999" stroke-width="1.5"/>
<line x1="79.5" y1="595.6" x2="79.5" y2="601.4" stroke="#000" stroke-width="1.6"/>
<text x="79.5" y="618.1" text-anchor="middle" class="tk">2</text>
<line x1="144.44" y1="595.6" x2="144.44" y2="601.4" stroke="#000" stroke-width="1.6"/>
<text x="144.44" y="618.1" text-anchor="middle" class="tk">4</text>
<line x1="209.38" y1="595.6" x2="209.38" y2="601.4" stroke="#000" stroke-width="1.6"/>
<text x="209.38" y="618.1" text-anchor="middle" class="tk">6</text>
<line x1="274.32" y1="595.6" x2="274.32" y2="601.4" stroke="#000" stroke-width="1.6"/>
<text x="274.32" y="618.1" text-anchor="middle" class="tk">8</text>
<line x1="339.26" y1="595.6" x2="339.26" y2="601.4" stroke="#000" stroke-width="1.6"/>
<text x="339.26" y="618.1" text-anchor="middle" class="tk">10</text>
<line x1="62.4" y1="585.4" x2="68.2" y2="585.4" stroke="#000" stroke-width="1.6"/>
<text x="58.2" y="592.1" text-anchor="end" class="tk">0.0</text>
<line x1="62.4" y1="525.23" x2="68.2" y2="525.23" stroke="#000" stroke-width="1.6"/>
<text x="58.2" y="531.93" text-anchor="end" class="tk">0.1</text>
<line x1="62.4" y1="465.06" x2="68.2" y2="465.06" stroke="#000" stroke-width="1.6"/>
<text x="58.2" y="471.76" text-anchor="end" class="tk">0.2</text>
<line x1="62.4" y1="404.89" x2="68.2" y2="404.89" stroke="#000" stroke-width="1.6"/>
<text x="58.2" y="411.59" text-anchor="end" class="tk">0.3</text>
<text x="213.25" y="648.8" text-anchor="middle" class="ti">DHA(%)</text>
<text transform="translate(15.8,476.3) rotate(-90)" text-anchor="middle" class="ti">Density</text>
<text x="1.8" y="354.5" class="lt">C</text>
<line x1="491.1" y1="357" x2="491.1" y2="595.6" stroke="#FAFAFA" stroke-width="1"/>
<line x1="581.1" y1="357" x2="581.1" y2="595.6" stroke="#FAFAFA" stroke-width="1"/>
<line x1="671.1" y1="357" x2="671.1" y2="595.6" stroke="#FAFAFA" stroke-width="1"/>
<line x1="446.7" y1="556.68" x2="737" y2="556.68" stroke="#FAFAFA" stroke-width="1"/>
<line x1="446.7" y1="499.83" x2="737" y2="499.83" stroke="#FAFAFA" stroke-width="1"/>
<line x1="446.7" y1="442.98" x2="737" y2="442.98" stroke="#FAFAFA" stroke-width="1"/>
<line x1="446.7" y1="386.12" x2="737" y2="386.12" stroke="#FAFAFA" stroke-width="1"/>
<line x1="536.1" y1="357" x2="536.1" y2="595.6" stroke="#F1F1F1" stroke-width="1"/>
<line x1="626.1" y1="357" x2="626.1" y2="595.6" stroke="#F1F1F1" stroke-width="1"/>
<line x1="716.1" y1="357" x2="716.1" y2="595.6" stroke="#F1F1F1" stroke-width="1"/>
<line x1="446.7" y1="585.1" x2="737" y2="585.1" stroke="#F1F1F1" stroke-width="1"/>
<line x1="446.7" y1="528.25" x2="737" y2="528.25" stroke="#F1F1F1" stroke-width="1"/>
<line x1="446.7" y1="471.4" x2="737" y2="471.4" stroke="#F1F1F1" stroke-width="1"/>
<line x1="446.7" y1="414.55" x2="737" y2="414.55" stroke="#F1F1F1" stroke-width="1"/>
<line x1="446.7" y1="357.7" x2="737" y2="357.7" stroke="#F1F1F1" stroke-width="1"/>
<path d="M459.90,584.80 C461.53,584.63 466.43,584.52 469.70,583.80 C472.97,583.08 476.23,581.97 479.50,580.50 C482.77,579.03 486.43,577.15 489.30,575.00 C492.17,572.85 494.45,570.27 496.70,567.60 C498.95,564.93 500.97,562.07 502.80,559.00 C504.63,555.93 506.07,552.47 507.70,549.20 C509.33,545.93 511.17,542.67 512.60,539.40 C514.03,536.13 515.08,533.45 516.30,529.60 C517.52,525.75 518.68,520.57 519.90,516.30 C521.12,512.03 522.37,508.08 523.60,504.00 C524.83,499.92 526.08,495.88 527.30,491.80 C528.52,487.72 529.65,483.55 530.90,479.50 C532.15,475.45 533.05,472.98 534.80,467.50 C536.55,462.02 539.65,452.63 541.40,446.60 C543.15,440.57 544.15,436.42 545.30,431.30 C546.45,426.18 547.28,421.02 548.30,415.90 C549.32,410.78 550.37,405.70 551.40,400.60 C552.43,395.50 553.35,389.38 554.50,385.30 C555.65,381.22 557.22,378.27 558.30,376.10 C559.38,373.93 560.00,373.22 561.00,372.30 C562.00,371.38 563.03,370.50 564.30,370.60 C565.57,370.70 566.87,371.60 568.60,372.90 C570.33,374.20 572.77,375.85 574.70,378.40 C576.63,380.95 578.57,384.53 580.20,388.20 C581.83,391.87 582.97,395.92 584.50,400.40 C586.03,404.88 587.98,410.42 589.40,415.10 C590.82,419.78 591.88,424.35 593.00,428.50 C594.12,432.65 595.22,436.42 596.10,440.00 C596.98,443.58 597.58,446.67 598.30,450.00 C599.02,453.33 599.68,456.67 600.40,460.00 C601.12,463.33 601.85,466.83 602.60,470.00 C603.35,473.17 604.17,475.37 604.90,479.00 C605.63,482.63 606.20,487.38 607.00,491.80 C607.80,496.22 608.67,501.37 609.70,505.50 C610.73,509.63 611.70,513.60 613.20,516.60 C614.70,519.60 616.87,521.43 618.70,523.50 C620.53,525.57 622.60,526.72 624.20,529.00 C625.80,531.28 626.93,534.22 628.30,537.20 C629.67,540.18 631.08,543.93 632.40,546.90 C633.72,549.87 634.95,552.67 636.20,555.00 C637.45,557.33 638.47,558.70 639.90,560.90 C641.33,563.10 642.97,565.87 644.80,568.20 C646.63,570.53 648.67,572.97 650.90,574.90 C653.13,576.83 655.57,578.68 658.20,579.80 C660.83,580.92 663.65,581.00 666.70,581.60 C669.75,582.20 673.25,582.90 676.50,583.40 C679.75,583.90 678.17,584.37 686.20,584.60 C694.23,584.83 718.28,584.77 724.70,584.80 Z" fill="rgba(248,118,109,0.2)"/>
<path d="M470.90,584.80 C472.95,584.48 479.32,583.93 483.20,582.90 C487.08,581.87 490.93,580.33 494.20,578.60 C497.47,576.87 500.35,574.95 502.80,572.50 C505.25,570.05 507.07,566.77 508.90,563.90 C510.73,561.03 512.37,558.15 513.80,555.30 C515.23,552.45 516.27,549.65 517.50,546.80 C518.73,543.95 519.97,541.02 521.20,538.20 C522.43,535.38 523.28,533.55 524.90,529.90 C526.52,526.25 529.28,520.62 530.90,516.30 C532.52,511.98 533.47,508.08 534.60,504.00 C535.73,499.92 536.78,495.88 537.70,491.80 C538.62,487.72 539.25,483.55 540.10,479.50 C540.95,475.45 541.98,471.58 542.80,467.50 C543.62,463.42 544.08,459.77 545.00,455.00 C545.92,450.23 547.23,444.13 548.30,438.90 C549.37,433.67 550.25,428.70 551.40,423.60 C552.55,418.50 553.80,412.90 555.20,408.30 C556.60,403.70 558.02,400.33 559.80,396.00 C561.58,391.67 564.12,386.38 565.90,382.30 C567.68,378.22 568.93,373.83 570.50,371.50 C572.07,369.17 573.68,368.18 575.30,368.30 C576.92,368.42 578.67,370.12 580.20,372.20 C581.73,374.28 582.97,377.33 584.50,380.80 C586.03,384.27 587.98,388.92 589.40,393.00 C590.82,397.08 591.78,401.22 593.00,405.30 C594.22,409.38 595.47,413.42 596.70,417.50 C597.93,421.58 599.20,426.05 600.40,429.80 C601.60,433.55 602.88,436.63 603.90,440.00 C604.92,443.37 605.70,446.67 606.50,450.00 C607.30,453.33 607.95,456.67 608.70,460.00 C609.45,463.33 610.23,466.67 611.00,470.00 C611.77,473.33 612.48,476.37 613.30,480.00 C614.12,483.63 614.55,487.55 615.90,491.80 C617.25,496.05 619.68,500.92 621.40,505.50 C623.12,510.08 624.58,514.70 626.20,519.30 C627.82,523.90 629.37,528.73 631.10,533.10 C632.83,537.47 634.75,541.97 636.60,545.50 C638.45,549.03 640.20,551.55 642.20,554.30 C644.20,557.05 646.13,559.48 648.60,562.00 C651.07,564.52 654.38,567.15 657.00,569.40 C659.62,571.65 661.87,573.98 664.30,575.50 C666.73,577.02 669.17,577.68 671.60,578.50 C674.03,579.32 676.47,579.98 678.90,580.40 C681.33,580.82 683.77,580.70 686.20,581.00 C688.63,581.30 691.05,581.73 693.50,582.20 C695.95,582.67 698.45,583.40 700.90,583.80 C703.35,584.20 704.23,584.43 708.20,584.60 C712.17,584.77 721.95,584.77 724.70,584.80 Z" fill="rgba(0,191,196,0.2)"/>
<path d="M459.90,584.80 C461.53,584.63 466.43,584.52 469.70,583.80 C472.97,583.08 476.23,581.97 479.50,580.50 C482.77,579.03 486.43,577.15 489.30,575.00 C492.17,572.85 494.45,570.27 496.70,567.60 C498.95,564.93 500.97,562.07 502.80,559.00 C504.63,555.93 506.07,552.47 507.70,549.20 C509.33,545.93 511.17,542.67 512.60,539.40 C514.03,536.13 515.08,533.45 516.30,529.60 C517.52,525.75 518.68,520.57 519.90,516.30 C521.12,512.03 522.37,508.08 523.60,504.00 C524.83,499.92 526.08,495.88 527.30,491.80 C528.52,487.72 529.65,483.55 530.90,479.50 C532.15,475.45 533.05,472.98 534.80,467.50 C536.55,462.02 539.65,452.63 541.40,446.60 C543.15,440.57 544.15,436.42 545.30,431.30 C546.45,426.18 547.28,421.02 548.30,415.90 C549.32,410.78 550.37,405.70 551.40,400.60 C552.43,395.50 553.35,389.38 554.50,385.30 C555.65,381.22 557.22,378.27 558.30,376.10 C559.38,373.93 560.00,373.22 561.00,372.30 C562.00,371.38 563.03,370.50 564.30,370.60 C565.57,370.70 566.87,371.60 568.60,372.90 C570.33,374.20 572.77,375.85 574.70,378.40 C576.63,380.95 578.57,384.53 580.20,388.20 C581.83,391.87 582.97,395.92 584.50,400.40 C586.03,404.88 587.98,410.42 589.40,415.10 C590.82,419.78 591.88,424.35 593.00,428.50 C594.12,432.65 595.22,436.42 596.10,440.00 C596.98,443.58 597.58,446.67 598.30,450.00 C599.02,453.33 599.68,456.67 600.40,460.00 C601.12,463.33 601.85,466.83 602.60,470.00 C603.35,473.17 604.17,475.37 604.90,479.00 C605.63,482.63 606.20,487.38 607.00,491.80 C607.80,496.22 608.67,501.37 609.70,505.50 C610.73,509.63 611.70,513.60 613.20,516.60 C614.70,519.60 616.87,521.43 618.70,523.50 C620.53,525.57 622.60,526.72 624.20,529.00 C625.80,531.28 626.93,534.22 628.30,537.20 C629.67,540.18 631.08,543.93 632.40,546.90 C633.72,549.87 634.95,552.67 636.20,555.00 C637.45,557.33 638.47,558.70 639.90,560.90 C641.33,563.10 642.97,565.87 644.80,568.20 C646.63,570.53 648.67,572.97 650.90,574.90 C653.13,576.83 655.57,578.68 658.20,579.80 C660.83,580.92 663.65,581.00 666.70,581.60 C669.75,582.20 673.25,582.90 676.50,583.40 C679.75,583.90 678.17,584.37 686.20,584.60 C694.23,584.83 718.28,584.77 724.70,584.80 Z" fill="none" stroke="#000" stroke-width="2.1" stroke-linejoin="round"/>
<path d="M470.90,584.80 C472.95,584.48 479.32,583.93 483.20,582.90 C487.08,581.87 490.93,580.33 494.20,578.60 C497.47,576.87 500.35,574.95 502.80,572.50 C505.25,570.05 507.07,566.77 508.90,563.90 C510.73,561.03 512.37,558.15 513.80,555.30 C515.23,552.45 516.27,549.65 517.50,546.80 C518.73,543.95 519.97,541.02 521.20,538.20 C522.43,535.38 523.28,533.55 524.90,529.90 C526.52,526.25 529.28,520.62 530.90,516.30 C532.52,511.98 533.47,508.08 534.60,504.00 C535.73,499.92 536.78,495.88 537.70,491.80 C538.62,487.72 539.25,483.55 540.10,479.50 C540.95,475.45 541.98,471.58 542.80,467.50 C543.62,463.42 544.08,459.77 545.00,455.00 C545.92,450.23 547.23,444.13 548.30,438.90 C549.37,433.67 550.25,428.70 551.40,423.60 C552.55,418.50 553.80,412.90 555.20,408.30 C556.60,403.70 558.02,400.33 559.80,396.00 C561.58,391.67 564.12,386.38 565.90,382.30 C567.68,378.22 568.93,373.83 570.50,371.50 C572.07,369.17 573.68,368.18 575.30,368.30 C576.92,368.42 578.67,370.12 580.20,372.20 C581.73,374.28 582.97,377.33 584.50,380.80 C586.03,384.27 587.98,388.92 589.40,393.00 C590.82,397.08 591.78,401.22 593.00,405.30 C594.22,409.38 595.47,413.42 596.70,417.50 C597.93,421.58 599.20,426.05 600.40,429.80 C601.60,433.55 602.88,436.63 603.90,440.00 C604.92,443.37 605.70,446.67 606.50,450.00 C607.30,453.33 607.95,456.67 608.70,460.00 C609.45,463.33 610.23,466.67 611.00,470.00 C611.77,473.33 612.48,476.37 613.30,480.00 C614.12,483.63 614.55,487.55 615.90,491.80 C617.25,496.05 619.68,500.92 621.40,505.50 C623.12,510.08 624.58,514.70 626.20,519.30 C627.82,523.90 629.37,528.73 631.10,533.10 C632.83,537.47 634.75,541.97 636.60,545.50 C638.45,549.03 640.20,551.55 642.20,554.30 C644.20,557.05 646.13,559.48 648.60,562.00 C651.07,564.52 654.38,567.15 657.00,569.40 C659.62,571.65 661.87,573.98 664.30,575.50 C666.73,577.02 669.17,577.68 671.60,578.50 C674.03,579.32 676.47,579.98 678.90,580.40 C681.33,580.82 683.77,580.70 686.20,581.00 C688.63,581.30 691.05,581.73 693.50,582.20 C695.95,582.67 698.45,583.40 700.90,583.80 C703.35,584.20 704.23,584.43 708.20,584.60 C712.17,584.77 721.95,584.77 724.70,584.80 Z" fill="none" stroke="#000" stroke-width="2.1" stroke-linejoin="round"/>
<rect x="446.7" y="357" width="290.3" height="238.6" fill="none" stroke="#999" stroke-width="1.5"/>
<line x1="536.1" y1="595.6" x2="536.1" y2="601.4" stroke="#000" stroke-width="1.6"/>
<text x="536.1" y="618.1" text-anchor="middle" class="tk">2</text>
<line x1="626.1" y1="595.6" x2="626.1" y2="601.4" stroke="#000" stroke-width="1.6"/>
<text x="626.1" y="618.1" text-anchor="middle" class="tk">3</text>
<line x1="716.1" y1="595.6" x2="716.1" y2="601.4" stroke="#000" stroke-width="1.6"/>
<text x="716.1" y="618.1" text-anchor="middle" class="tk">4</text>
<line x1="440.9" y1="585.1" x2="446.7" y2="585.1" stroke="#000" stroke-width="1.6"/>
<text x="436.7" y="591.8" text-anchor="end" class="tk">0.0</text>
<line x1="440.9" y1="528.25" x2="446.7" y2="528.25" stroke="#000" stroke-width="1.6"/>
<text x="436.7" y="534.95" text-anchor="end" class="tk">0.3</text>
<line x1="440.9" y1="471.4" x2="446.7" y2="471.4" stroke="#000" stroke-width="1.6"/>
<text x="436.7" y="478.1" text-anchor="end" class="tk">0.6</text>
<line x1="440.9" y1="414.55" x2="446.7" y2="414.55" stroke="#000" stroke-width="1.6"/>
<text x="436.7" y="421.25" text-anchor="end" class="tk">0.9</text>
<line x1="440.9" y1="357.7" x2="446.7" y2="357.7" stroke="#000" stroke-width="1.6"/>
<text x="436.7" y="364.4" text-anchor="end" class="tk">1.2</text>
<text x="591.85" y="648.8" text-anchor="middle" class="ti">DPA(%)</text>
<text transform="translate(394.4,476.3) rotate(-90)" text-anchor="middle" class="ti">Density</text>
<text x="382.9" y="354.5" class="lt">D</text>
<rect x="639.5" y="368" width="89.5" height="63" fill="#fff"/>
<rect x="641.2" y="371.2" width="27.2" height="26.2" fill="rgb(254,228,226)" stroke="#000" stroke-width="1.8"/>
<rect x="641.2" y="401" width="27.2" height="26.4" fill="rgb(204,242,243)" stroke="#000" stroke-width="1.8"/>
<text x="674" y="390.5" class="lg">female</text>
<text x="674" y="419.6" class="lg">male</text>
</svg></body></html>
